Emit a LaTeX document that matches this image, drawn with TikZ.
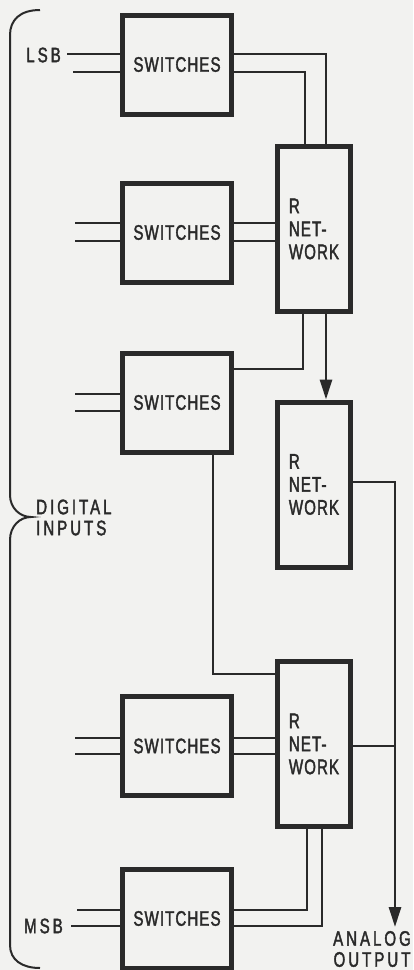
\documentclass[tikz,border=0pt]{standalone}
\usepackage{fontspec}
\setmainfont{Liberation Sans}[FakeStretch=0.72,LetterSpace=5,FakeBold=1.8]
\usetikzlibrary{arrows.meta}
\definecolor{ink}{RGB}{42,42,42}
\definecolor{paper}{RGB}{242,242,240}
\begin{document}
\begin{tikzpicture}[x=1pt,y=-1pt,
  swbox/.style={draw=ink, line width=5pt, minimum width=109pt, minimum height=99pt, inner sep=0pt, text=ink,
    font=\fontsize{21}{23}\selectfont},
  rnbox/.style={draw=ink, line width=5pt, minimum width=73pt, minimum height=165pt, inner sep=0pt, text=ink,
    align=left, font=\fontsize{21}{23}\selectfont},
  conn/.style={draw=ink, line width=2.8pt},
  arr/.style={conn, -{Triangle[length=20pt,width=12pt]}},
  lbl/.style={text=ink, inner sep=0pt, font=\fontsize{21}{21}\selectfont\addfontfeature{LetterSpace=14}},
  brace/.style={draw=ink, line width=2pt}]
\fill[paper] (0,0) rectangle (413,970);
\useasboundingbox (0,0) rectangle (413,970);

% boxes
\node[swbox] (SW1) at (177,64.5) {SWITCHES};
\node[swbox] (SW2) at (177,232.5) {SWITCHES};
\node[swbox] (SW3) at (177,402.5) {SWITCHES};
\node[swbox] (SW4) at (177,746) {SWITCHES};
\node[swbox] (SW5) at (177,918.5) {SWITCHES};
\node[rnbox] (RN1) at (314,229) {R\\NET-\\WORK};
\node[rnbox] (RN2) at (314,484.5) {R\\NET-\\WORK};
\node[rnbox] (RN3) at (314,744) {R\\NET-\\WORK};

% labels
\node[lbl, anchor=east] (LSB) at (61,55) {LSB};
\node[lbl, anchor=east] (MSB) at (63,926) {MSB};
\node[lbl, anchor=west, align=left] (DI) at (36,517.5) {DIGITAL\\INPUTS};
\node[lbl, align=center] (AO) at (372,949) {ANALOG\\OUTPUT};

% brace
\draw[brace] (40,10) .. controls (20,10) and (10,20) .. (10,35) -- (10,495)
  .. controls (10,508) and (20,517) .. (31,517)
  .. controls (20,517) and (10,526) .. (10,540) -- (10,945)
  .. controls (10,960) and (22,968) .. (40,968);

% inputs
\coordinate (i1a) at (67,54);  \coordinate (i1b) at (73,72);
\coordinate (i2a) at (75,223); \coordinate (i2b) at (75,241);
\coordinate (i3a) at (75,394); \coordinate (i3b) at (75,411);
\coordinate (i4a) at (75,738); \coordinate (i4b) at (75,754);
\coordinate (i5a) at (77,910); \coordinate (i5b) at (71,926);
\foreach \i/\s in {i1a/SW1,i1b/SW1,i2a/SW2,i2b/SW2,i3a/SW3,i3b/SW3,i4a/SW4,i4b/SW4,i5a/SW5,i5b/SW5}
  \draw[conn] (\i) -- (\i -| \s.west);

% SW1 -> RN1
\coordinate (a1) at (326,54); \coordinate (a2) at (305,72);
\draw[conn] (SW1.east |- a1) -- (a1) -- (a1 |- RN1.north);
\draw[conn] (SW1.east |- a2) -- (a2) -- (a2 |- RN1.north);
% SW2 -> RN1
\draw[conn] (i2a -| SW2.east) -- (i2a -| RN1.west);
\draw[conn] (i2b -| SW2.east) -- (i2b -| RN1.west);
% SW3 -> RN1
\coordinate (b1) at (303,369);
\draw[conn] (SW3.east |- b1) -- (b1) -- (b1 |- RN1.south);
% SW3 -> RN3
\coordinate (b2) at (213,674);
\draw[conn] (b2 |- SW3.south) -- (b2) -- (b2 -| RN3.west);
% RN1 -> RN2
\coordinate (c1) at (326,357);
\draw[arr] (c1 |- RN1.south) -- (c1 |- RN2.north);
% RN2 -> output
\coordinate (d1) at (395,482); \coordinate (d2) at (395,927); \coordinate (d3) at (395,746);
\draw[arr] (RN2.east |- d1) -- (d1) -- (d2);
\draw[conn] (RN3.east |- d3) -- (d3);
% SW4 -> RN3
\draw[conn] (i4a -| SW4.east) -- (i4a -| RN3.west);
\draw[conn] (i4b -| SW4.east) -- (i4b -| RN3.west);
% SW5 -> RN3
\coordinate (e1) at (307,910); \coordinate (e2) at (322,926);
\draw[conn] (e1 |- RN3.south) -- (e1) -- (e1 -| SW5.east);
\draw[conn] (e2 |- RN3.south) -- (e2) -- (e2 -| SW5.east);
\end{tikzpicture}
\end{document}
